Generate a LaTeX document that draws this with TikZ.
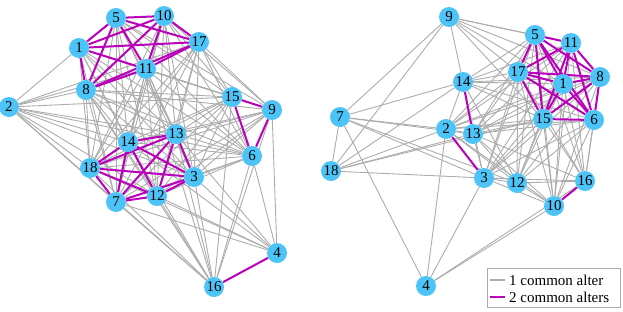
\documentclass[tikz,border=0pt]{standalone}
\usepackage{fontspec}
\setmainfont{Liberation Serif}
\usetikzlibrary{backgrounds}
\definecolor{nodeblue}{RGB}{77,196,247}
\definecolor{gline}{RGB}{172,172,172}
\definecolor{pline}{RGB}{187,0,187}
\begin{document}
\begin{tikzpicture}[x=1pt,y=-1pt,
  vert/.style={circle,fill=nodeblue,inner sep=0pt,minimum size=20pt,font=\fontsize{15}{15}\selectfont},
  one/.style={draw=gline,line width=0.9pt},
  two/.style={draw=pline,line width=2pt},
  legtext/.style={anchor=west,inner sep=0pt,font=\fontsize{15}{15}\selectfont}]
\useasboundingbox (0,0) rectangle (623,311);
% left graph nodes
\foreach \n/\x/\y in {5/116/18,10/164/16,1/79/48,17/199/42,11/146/69,8/86/90,2/9/107,15/232/97,9/272/110,14/128/142,13/176/134,6/252/156,18/90/168,3/194/177,12/157/196,7/116/202,4/277/253,16/214/287}
  \node[vert] (a\n) at (\x,\y) {\n};
% right graph nodes
\foreach \n/\x/\y in {9/449/17,5/535/35,11/571/43,17/518/72,8/600/77,1/563/84,14/463/82,7/340/117,2/446/129,13/473/134,15/543/119,6/594/120,18/331/171,3/484/178,12/517/183,16/585/181,10/554/206,4/426/286}
  \node[vert] (b\n) at (\x,\y) {\n};
\begin{scope}[on background layer]
% left gray
\foreach \p/\q in {2/1,2/8,2/11,2/17,2/15,2/6,2/14,2/13,2/3,2/12,2/18,2/7,2/16,
  16/7,16/18,16/12,16/3,16/13,16/14,16/6,16/9,16/15,16/8,16/11,
  4/12,4/3,4/13,4/7,4/6,4/9,4/14,4/18}
  \draw[one] (a\p) -- (a\q);
\foreach \p in {1,5,8,10,11,17}
  \foreach \q in {3,7,12,13,14,18,15,9,6}
    \draw[one] (a\p) -- (a\q);
\foreach \p in {3,7,12,13,14,18}
  \foreach \q in {15,9,6}
    \draw[one] (a\p) -- (a\q);
% right gray
\foreach \p/\q in {9/7,9/18,9/14,9/5,9/17,9/11,9/1,9/8,9/15,
  7/14,7/2,7/13,7/18,7/4,7/3,7/12,
  18/14,18/2,18/13,18/3,18/15,
  4/2,4/3,4/10,4/16,
  14/2,14/3,14/12,2/13,2/12,2/10,13/3,13/12,13/10,13/16,3/12,3/10,3/16,12/10,12/16}
  \draw[one] (b\p) -- (b\q);
\foreach \p in {1,5,6,8,11,15,17}
  \foreach \q in {14,2,13,3,12,10,16}
    \draw[one] (b\p) -- (b\q);
% left purple
\foreach \p/\q in {1/5,1/8,1/10,1/11,1/17,5/8,5/10,5/11,5/17,8/10,8/11,8/17,10/11,10/17,11/17,
  3/7,3/12,3/13,3/14,3/18,7/12,7/13,7/14,7/18,12/13,12/14,12/18,13/14,13/18,14/18,
  15/9,15/6,9/6,4/16}
  \draw[two] (a\p) -- (a\q);
% right purple
\foreach \p/\q in {1/5,1/6,1/8,1/11,1/15,1/17,5/6,5/8,5/11,5/15,5/17,6/8,6/11,6/15,6/17,
  8/11,8/15,8/17,11/15,11/17,15/17,14/13,2/3,10/16}
  \draw[two] (b\p) -- (b\q);
\end{scope}
% legend
\node[draw=gline,line width=0.6pt,minimum width=133pt,minimum height=39pt,inner sep=0pt] (leg) at (553.5,287.5) {};
\coordinate (g1) at (490,280); \coordinate (g2) at (505,280);
\coordinate (p1) at (490,297); \coordinate (p2) at (505,297);
\draw[one,line width=1.2pt] (g1) -- (g2);
\draw[two] (p1) -- (p2);
\node[legtext] (lt1) at (509,280) {1 common alter};
\node[legtext] (lt2) at (509,297) {2 common alters};
\end{tikzpicture}
\end{document}
